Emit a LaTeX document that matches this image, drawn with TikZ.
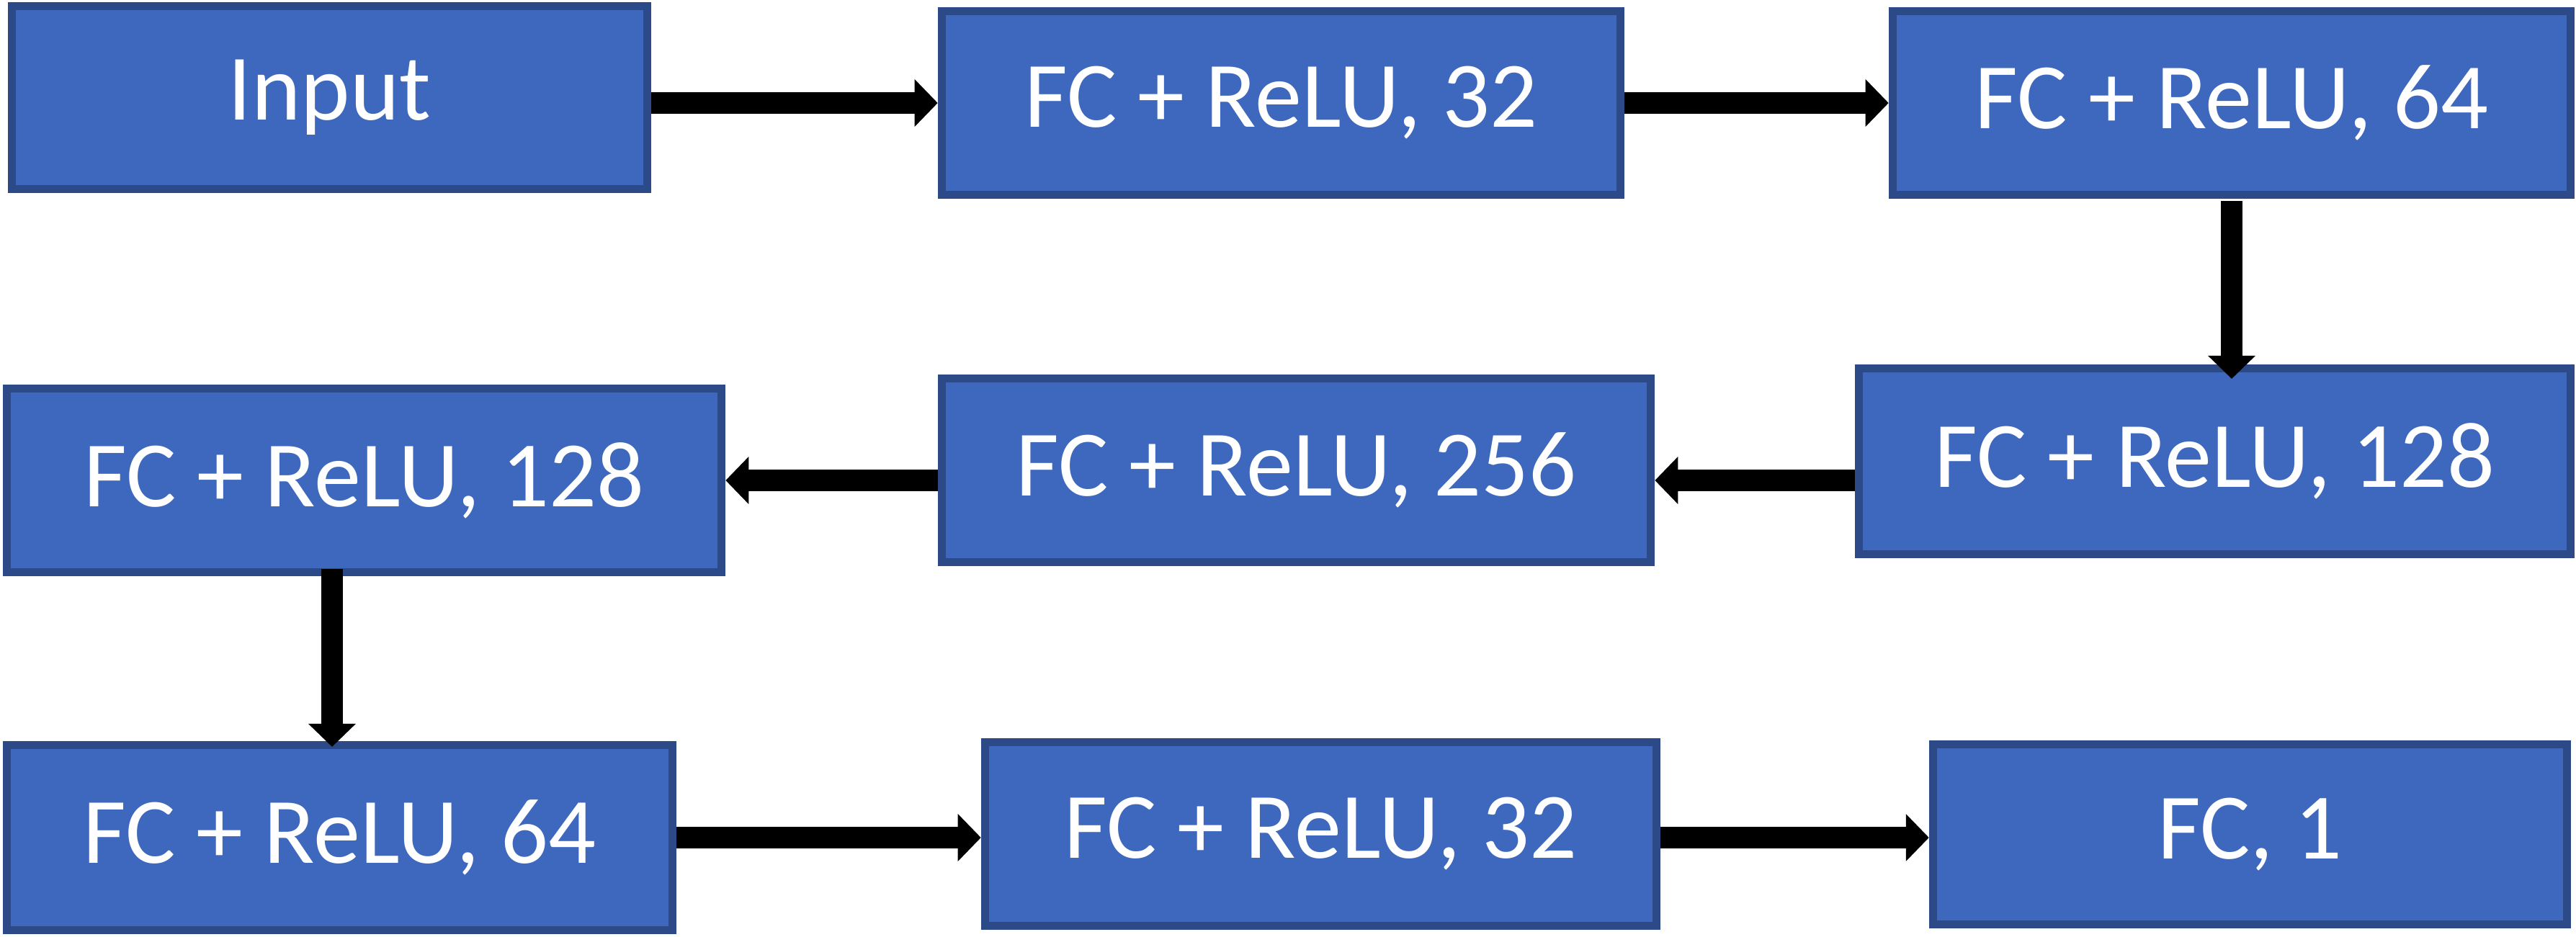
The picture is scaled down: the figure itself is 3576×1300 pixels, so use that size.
\documentclass[tikz,border=0pt]{standalone}
\usepackage{fontspec}
\setmainfont{Carlito}
\usepackage{tikz}
\usetikzlibrary{arrows.meta, positioning}
\definecolor{layerblue}{HTML}{3E68BD}
\definecolor{layeredge}{HTML}{2C4A87}

\begin{document}
\begin{tikzpicture}[x=0.01cm, y=-0.01cm, font=\fontsize{37}{40}\selectfont,
  s/.style={rectangle, draw=layeredge, line width=0.11cm, fill=layerblue, text=white,
            inner sep=0pt, minimum height=2.55cm},
  a/.style={-{Triangle[length=3.2mm, width=6.4mm]}, line width=3mm, black}]
\useasboundingbox (0,0) rectangle (3576,1300);
\node[s, minimum width=8.82cm, minimum height=2.54cm] (inp) at (457.5,135.5) {Input};
\node[s, minimum width=9.42cm] (fc32a) at (1778.5,143) {FC + ReLU, 32};
\node[s, minimum width=9.41cm] (fc64a) at (3098,143) {FC + ReLU, 64};
\node[s, minimum width=9.88cm, minimum height=2.58cm] (fc128r) at (3074.5,640.5) {FC + ReLU, 128};
\node[s, minimum width=9.84cm] (fc256) at (1799.5,653) {FC + ReLU, 256};
\node[s, minimum width=9.92cm] (fc128l) at (505.5,667) {FC + ReLU, 128};
\node[s, minimum width=9.24cm, minimum height=2.57cm] (fc64b) at (471.5,1163) {FC + ReLU, 64};
\node[s, minimum width=9.32cm] (fc32b) at (1833.5,1158) {FC + ReLU, 32};
\node[s, minimum width=8.80cm, minimum height=2.50cm] (fc1) at (3123.5,1158.5) {FC, 1};
\draw[a] (inp.east |- fc32a.west) -- (fc32a.west);
\draw[a] (fc32a.east) -- (fc64a.west);
\draw[a, shorten >=-2mm] ([yshift=-0.3mm]fc64a.south) -- (fc64a.south |- fc128r.north);
\draw[a] (fc128r.west |- fc128l.east) -- (fc256.east |- fc128l.east);
\draw[a] (fc256.west |- fc128l.east) -- (fc128l.east);
\draw[a, shorten >=-0.8mm] ([xshift=-4.45mm, yshift=1mm]fc128l.south) -- ([xshift=-4.45mm]fc128l.south |- fc64b.north);
\draw[a] (fc64b.east) -- (fc64b.east -| fc32b.west);
\draw[a] (fc32b.east |- fc64b.east) -- (fc1.west |- fc64b.east);
\end{tikzpicture}
\end{document}
